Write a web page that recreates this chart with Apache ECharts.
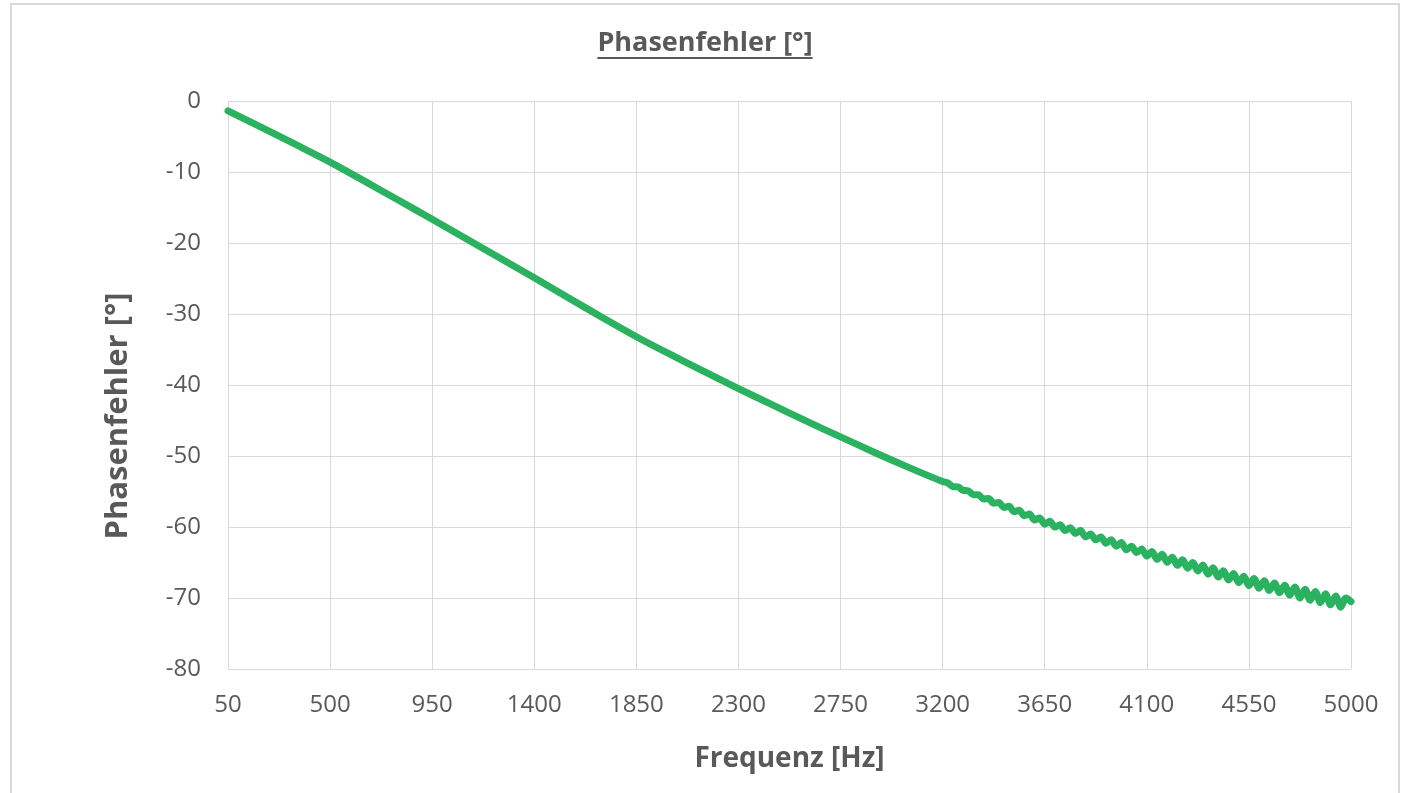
<!DOCTYPE html>
<html>
<head>
<meta charset="utf-8">
<script src="https://cdn.jsdelivr.net/npm/echarts@6/dist/echarts.min.js"></script>
<style>
html,body{margin:0;padding:0;background:#fff;}
#c{width:1403px;height:793px;}
</style>
</head>
<body>
<div id="c"></div>
<script>
// Frequency points [Hz]
const freqs = [
  50, 200, 350, 500, 650, 800, 950, 1100, 1250, 1400, 1550, 1700, 1850, 2000, 2150, 2300,
  2450, 2600, 2750, 2900, 3050, 3200,
  3222.5, 3245, 3267.5, 3290, 3312.5, 3335, 3357.5, 3380, 3402.5, 3425,
  3447.5, 3470, 3492.5, 3515, 3537.5, 3560, 3582.5, 3605, 3627.5, 3650,
  3672.5, 3695, 3717.5, 3740, 3762.5, 3785, 3807.5, 3830, 3852.5, 3875,
  3897.5, 3920, 3942.5, 3965, 3987.5, 4010, 4032.5, 4055, 4077.5, 4100,
  4122.5, 4145, 4167.5, 4190, 4212.5, 4235, 4257.5, 4280, 4302.5, 4325,
  4347.5, 4370, 4392.5, 4415, 4437.5, 4460, 4482.5, 4505, 4527.5, 4550,
  4572.5, 4595, 4617.5, 4640, 4662.5, 4685, 4707.5, 4730, 4752.5, 4775,
  4797.5, 4820, 4842.5, 4865, 4887.5, 4910, 4932.5, 4955, 4977.5, 5000
];
// Phase error [deg]
const phase = [
  -1.4, -3.75, -6.15, -8.6, -11.25, -13.95, -16.65, -19.4, -22.15, -24.9, -27.7, -30.5, -33.2, -35.7, -38.1, -40.5,
  -42.8, -45.1, -47.3, -49.5, -51.6, -53.6,
  -53.8, -54.3, -54.35, -54.85, -54.9, -55.45, -55.45, -56.05, -56.0, -56.65,
  -56.54, -57.24, -57.08, -57.84, -57.63, -58.42, -58.18, -59.01, -58.74, -59.6,
  -59.2, -60.0, -59.7, -60.5, -60.1, -60.9, -60.5, -61.4, -61.0, -61.8,
  -61.4, -62.3, -61.8, -62.7, -62.2, -63.2, -62.7, -63.6, -63.1, -64.1,
  -63.45, -64.55, -63.85, -64.95, -64.25, -65.4, -64.6, -65.8, -65.0, -66.2,
  -65.35, -66.65, -65.75, -67.05, -66.15, -67.45, -66.55, -67.85, -66.95, -68.25,
  -67.26, -68.62, -67.58, -68.94, -67.9, -69.26, -68.2, -69.6, -68.44, -70.0,
  -68.76, -70.32, -69.08, -70.64, -69.4, -70.96, -69.72, -71.3, -70.0, -70.5
];
const xStart = 50;          // first frequency tick
const xTickStep = 450;      // tick spacing [Hz]
const xEnd = 5000;
const yTicks = { min: -80, max: 0, step: 10 };

const titleText = 'Phasenfehler [°]';
const xName = 'Frequenz [Hz]';
const yName = 'Phasenfehler [°]';

const FONT = '"Open Sans", "Noto Sans", sans-serif';
const TXT = '#595959';
const GRID = '#d9d9d9';
const titleSize = 27;

const chart = echarts.init(document.getElementById('c'), null, { renderer: 'canvas' });

const data = freqs.map((f, i) => [f - xStart, phase[i]]);
const titleCx = 705;

function textWidth() {
  const mctx = document.createElement('canvas').getContext('2d');
  mctx.font = 'bold ' + titleSize + 'px ' + FONT;
  return mctx.measureText(titleText).width;
}
const tw = textWidth();

chart.setOption({
  animation: false,
  backgroundColor: '#fff',
  title: {
    text: titleText,
    left: titleCx,
    top: 30,
    padding: 0,
    textAlign: 'center',
    textStyle: { fontFamily: FONT, fontWeight: 'bold', fontSize: titleSize, color: TXT }
  },
  graphic: [
    { type: 'rect', shape: { x: 11, y: 4, width: 1388, height: 820 }, style: { fill: 'none', stroke: GRID, lineWidth: 2 }, silent: true },
    { type: 'line', shape: { x1: titleCx - tw / 2, y1: 58, x2: titleCx + tw / 2, y2: 58 }, style: { stroke: TXT, lineWidth: 2 }, silent: true },
    { type: 'text', x: 118, y: 416, rotation: Math.PI / 2, silent: true,
      style: { text: yName, fill: TXT, font: 'bold 31px ' + FONT, align: 'center', verticalAlign: 'middle' } }
  ],
  grid: { left: 228, right: 52, top: 101, bottom: 124, containLabel: false },
  xAxis: {
    type: 'value',
    min: 0,
    max: xEnd - xStart,
    interval: xTickStep,
    name: xName,
    nameLocation: 'middle',
    nameGap: 76,
    nameTextStyle: { fontFamily: FONT, fontWeight: 'bold', fontSize: 28, color: TXT },
    axisLine: { show: false },
    axisTick: { show: false },
    splitLine: { show: true, lineStyle: { color: GRID, width: 1 } },
    axisLabel: {
      margin: 24,
      fontFamily: FONT, fontSize: 24, color: TXT,
      formatter: v => String(v + xStart)
    }
  },
  yAxis: {
    type: 'value',
    min: yTicks.min,
    max: yTicks.max,
    interval: yTicks.step,
    axisLine: { show: false },
    axisTick: { show: false },
    splitLine: { show: true, lineStyle: { color: GRID, width: 1 } },
    axisLabel: { margin: 27, fontFamily: FONT, fontSize: 24, color: TXT }
  },
  series: [{
    type: 'line',
    data: data,
    showSymbol: false,
    symbol: 'none',
    smooth: 0.3,
    lineStyle: { color: '#2bb260', width: 7, cap: 'round', join: 'round' },
    z: 3
  }]
});
</script>
</body>
</html>
